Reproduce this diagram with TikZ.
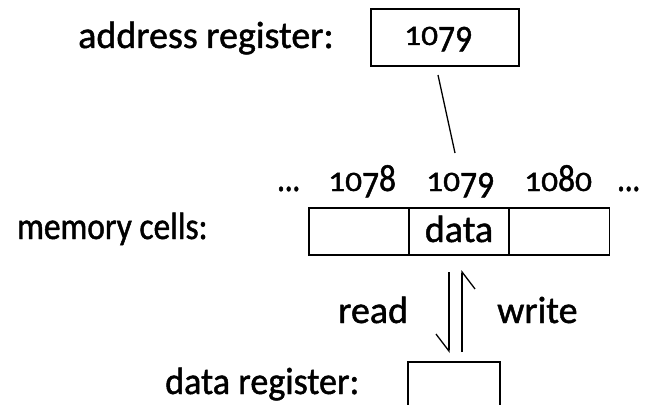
\documentclass[tikz,border=0pt]{standalone}
\usepackage{fontspec}
\usepackage{graphicx}
\setmainfont{Carlito}[FakeBold=1.2]
\usetikzlibrary{arrows.meta}
% old-style figure look: small 0/1, descending 7/9
\newcommand\osS[1]{\scalebox{1}[0.74]{#1}}
\newcommand\osD[1]{\raisebox{-0.17em}{#1}}
\begin{document}
\begin{tikzpicture}[x=1pt,y=-1pt,
  lbl/.style={inner sep=0pt, anchor=base west, font=\fontsize{38}{44}\selectfont},
  box/.style={draw, line width=1.6pt, inner sep=0pt},
  conn/.style={line width=1.3pt},
  harp/.style={line width=1.3pt, -{Straight Barb[right,length=17pt,width=26pt,line width=1.3pt]}}]
\clip (0,0) rectangle (647,404);
\fill[white] (0,0) rectangle (647,404);
% address register
\node[lbl] (addrlbl) at (78,48) {address register:};
\node[box, minimum width=148pt, minimum height=57pt] (addr) at (445,37.5) {};
\node[lbl] (addrval) at (404,45) {\addfontfeature{FakeStretch=0.88}\osS{1}\osS{0}\osD{7}\osD{9}};
% cell labels
\node[lbl] (dl) at (277,191) {\addfontfeature{FakeStretch=0.8}...};
\node[lbl] (a1078) at (328,191) {\addfontfeature{FakeStretch=0.88}\osS{1}\osS{0}\osD{7}8};
\node[lbl] (a1079) at (426,191) {\addfontfeature{FakeStretch=0.88}\osS{1}\osS{0}\osD{7}\osD{9}};
\node[lbl] (a1080) at (524,191) {\addfontfeature{FakeStretch=0.88}\osS{1}\osS{0}8\osS{0}};
\node[lbl] (dr) at (617,191) {\addfontfeature{FakeStretch=0.8}...};
% address line
\coordinate (lt) at (438,75);
\coordinate (lb) at (455,153);
\draw[conn] (lt) -- (lb);
% memory cells
\node[lbl] (memlbl) at (17,239) {\addfontfeature{FakeStretch=0.88}memory cells:};
\node[box, minimum width=100pt, minimum height=47pt] (c1) at (359,231.5) {};
\node[box, minimum width=100pt, minimum height=47pt] (c3) at (559.5,231.5) {};
\node[box, minimum width=100pt, minimum height=47pt, line width=2.2pt] (c2) at (459,231.5) {};
\node[lbl, anchor=base] (data) at (459,242) {data};
% read / write
\coordinate (rt) at (449,272);
\coordinate (rb) at (449,353);
\coordinate (wb) at (462,352);
\coordinate (wt) at (462,270);
\draw[harp] (rt) -- (rb);
\draw[harp] (wb) -- (wt);
\node[lbl] (read) at (338,323) {read};
\node[lbl] (write) at (497,323) {write};
% data register
\node[lbl] (dreglbl) at (165,394) {\addfontfeature{FakeStretch=0.95}data register:};
\node[box, minimum width=92pt, minimum height=58pt] (dreg) at (454,391) {};
\end{tikzpicture}
\end{document}
